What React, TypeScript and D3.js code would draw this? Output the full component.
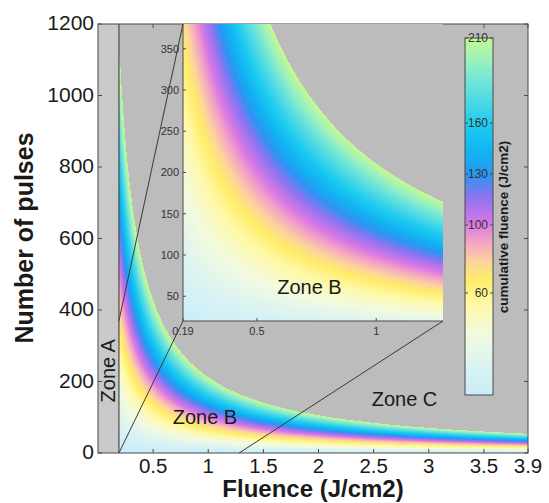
import React from "react";
import * as d3 from "d3";

// ---- data ----
const FLUENCE_TICKS = [0.5, 1, 1.5, 2, 2.5, 3, 3.5, 3.9];
const PULSE_TICKS = [0, 200, 400, 600, 800, 1000, 1200];
const INSET_FLUENCE_TICKS = [0.19, 0.5, 1];
const INSET_PULSE_TICKS = [50, 100, 150, 200, 250, 300, 350];
const CBAR_TICKS = [60, 100, 130, 160, 210];
const CMAP_VALUES = [0, 15, 35, 54, 68, 78, 90, 101, 117, 129, 142, 158, 182, 196, 210];
const CMAP_COLORS = [
  "#c8ecf8", "#d8f2f4", "#f2fae0", "#fff8a4", "#ffec68", "#fcd49c", "#f4a4c4",
  "#d878e4", "#8a74f2", "#2e94f2", "#10b2f2", "#1ccaf0", "#68e2dc", "#98f0c0", "#c4f892",
];
const FLUENCE_DOMAIN = [0, 3.9];
const PULSE_DOMAIN = [0, 1200];
const ZONE_A_LIMIT = 0.19;
const MAX_CUMULATIVE = 210;
const ZOOM_FLUENCE = [0.19, 1.28];
const ZOOM_PULSES = [0, 370];
const INSET_PULSE_DOMAIN = [20, 380];
const CBAR_DOMAIN = [0, 210];
const ZONES = [
  { label: "Zone B", f: 0.97, n: 100 },
  { label: "Zone C", f: 2.78, n: 150 },
];

const FONT = "Arial, 'Liberation Sans', Helvetica, sans-serif";
const BG = "#bcbcbc";
const AXIS = "#4a4a4a";

function Columns({ x, y, fMin, fMax, id }: any) {
  const px0 = Math.floor(x(fMin));
  const px1 = Math.ceil(x(fMax));
  const cols = d3.range(px0, px1);
  return (
    <g clipPath={`url(#${id})`}>
      {cols.map((px) => {
        const f = Math.max(fMin, x.invert(px + 0.5));
        const top = y(MAX_CUMULATIVE / f);
        const bottom = y(0);
        const xl = Math.max(px, x(fMin));
        const xr = Math.min(px + 1, x(fMax));
        return (
          <rect
            key={px}
            x={xl}
            y={top}
            width={xr - xl + 0.6}
            height={bottom - top}
            fill="url(#cmap)"
            shapeRendering="crispEdges"
          />
        );
      })}
    </g>
  );
}

export default function App() {
  const W = 549, H = 503;
  const m = { left: 98, right: 528, top: 24, bottom: 453 };
  const x = d3.scaleLinear().domain(FLUENCE_DOMAIN).range([m.left, m.right]);
  const y = d3.scaleLinear().domain(PULSE_DOMAIN).range([m.bottom, m.top]);

  const ins = { left: 183, right: 443, top: 24, bottom: 321 };
  const ix = d3.scaleLinear().domain(ZOOM_FLUENCE).range([ins.left, ins.right]);
  const iy = d3.scaleLinear().domain(INSET_PULSE_DOMAIN).range([ins.bottom, ins.top]);

  const cb = { left: 465, right: 493, top: 38, bottom: 395 };
  const cy = d3.scaleLinear().domain(CBAR_DOMAIN).range([cb.bottom, cb.top]);

  const tk = 4;

  return (
    <svg
      width={W}
      height={H}
      style={{ position: "absolute", left: 0, top: 0, background: "#fff" }}
      fontFamily={FONT}
    >
      <defs>
        <linearGradient id="cmap" x1="0" y1="1" x2="0" y2="0" gradientUnits="objectBoundingBox">
          {CMAP_VALUES.map((v, i) => (
            <stop key={i} offset={v / MAX_CUMULATIVE} stopColor={CMAP_COLORS[i]} />
          ))}
        </linearGradient>
        <clipPath id="mainclip">
          <rect x={m.left} y={m.top} width={m.right - m.left} height={m.bottom - m.top} />
        </clipPath>
        <clipPath id="insclip">
          <rect x={ins.left} y={ins.top} width={ins.right - ins.left} height={ins.bottom - ins.top} />
        </clipPath>
      </defs>
      <rect x={0} y={0} width={W} height={H} fill="#fff" />

      {/* main plot */}
      <rect x={m.left} y={m.top} width={m.right - m.left} height={m.bottom - m.top} fill={BG} />
      <rect x={m.left} y={m.top} width={x(ZONE_A_LIMIT) - m.left} height={m.bottom - m.top} fill="#c9c9c9" />
      <Columns x={x} y={y} fMin={ZONE_A_LIMIT} fMax={FLUENCE_DOMAIN[1]} id="mainclip" />
      <line x1={x(ZONE_A_LIMIT)} x2={x(ZONE_A_LIMIT)} y1={y(0)} y2={y(1200)} stroke={AXIS} strokeWidth={1.2} />

      {/* ticks main */}
      {FLUENCE_TICKS.map((t) => (
        <g key={"fx" + t}>
          <line x1={x(t)} x2={x(t)} y1={m.bottom} y2={m.bottom - tk} stroke={AXIS} />
          <line x1={x(t)} x2={x(t)} y1={m.top} y2={m.top + tk} stroke={AXIS} />
          <text x={x(t)} y={473} textAnchor="middle" fontSize={20.5} fill="#1a1a1a">{t}</text>
        </g>
      ))}
      {PULSE_TICKS.map((t) => (
        <g key={"py" + t}>
          <line x1={m.left} x2={m.left + tk} y1={y(t)} y2={y(t)} stroke={AXIS} />
          <line x1={m.right} x2={m.right - tk} y1={y(t)} y2={y(t)} stroke={AXIS} />
          <text x={94} y={y(t) - 1} dy="0.35em" textAnchor="end" fontSize={21} fill="#1a1a1a">{t}</text>
        </g>
      ))}
      <rect x={m.left} y={m.top} width={m.right - m.left} height={m.bottom - m.top} fill="none" stroke={AXIS} strokeWidth={1} />

      {/* inset */}
      <rect x={ins.left} y={ins.top} width={ins.right - ins.left} height={ins.bottom - ins.top} fill={BG} />
      <Columns x={ix} y={iy} fMin={ZOOM_FLUENCE[0]} fMax={ZOOM_FLUENCE[1]} id="insclip" />
      <line x1={ins.left} x2={ins.left} y1={ins.top} y2={ins.bottom} stroke={AXIS} />
      <line x1={ins.left} x2={ins.right} y1={ins.bottom} y2={ins.bottom} stroke={AXIS} />
      {INSET_FLUENCE_TICKS.map((t) => (
        <g key={"ix" + t}>
          <line x1={ix(t)} x2={ix(t)} y1={ins.bottom} y2={ins.bottom - 3} stroke={AXIS} />
          <text x={ix(t)} y={335} textAnchor="middle" fontSize={11} fill="#333">{t}</text>
        </g>
      ))}
      {INSET_PULSE_TICKS.map((t) => (
        <g key={"iy" + t}>
          <line x1={ins.left} x2={ins.left + 3} y1={iy(t)} y2={iy(t)} stroke={AXIS} />
          <text x={179} y={iy(t)} dy="0.35em" textAnchor="end" fontSize={11} fill="#333">{t}</text>
        </g>
      ))}

      {/* connector lines */}
      <g stroke="#3a3a3a" strokeWidth={1}>
        <line x1={ins.left} y1={ins.top} x2={x(ZOOM_FLUENCE[0])} y2={y(ZOOM_PULSES[1])} />
        <line x1={ins.left} y1={ins.bottom} x2={x(ZOOM_FLUENCE[0])} y2={y(ZOOM_PULSES[0])} />
        <line x1={ins.right} y1={ins.bottom} x2={x(ZOOM_FLUENCE[1])} y2={y(ZOOM_PULSES[0])} />
      </g>

      {/* zone labels */}
      <text transform={`translate(${(m.left + x(ZONE_A_LIMIT)) / 2 + 7},${y(230)}) rotate(-90)`} textAnchor="middle" fontSize={20} fill="#1a1a1a">Zone A</text>
      {ZONES.map((z) => (
        <text key={z.label} x={x(z.f)} y={y(z.n) + 7} textAnchor="middle" fontSize={20} fill="#1a1a1a">{z.label}</text>
      ))}
      <text x={ix(0.72)} y={iy(50) - 2} textAnchor="middle" fontSize={20} fill="#1a1a1a">Zone B</text>

      {/* colorbar */}
      <rect x={cb.left} y={cb.top} width={cb.right - cb.left} height={cb.bottom - cb.top} fill="url(#cmap)" stroke={AXIS} strokeWidth={1} />
      {CBAR_TICKS.map((t) => (
        <g key={"cb" + t}>
          <line x1={cb.left} x2={cb.left + 3} y1={cy(t)} y2={cy(t)} stroke={AXIS} />
          <line x1={cb.right} x2={cb.right - 3} y1={cy(t)} y2={cy(t)} stroke={AXIS} />
          <text x={488} y={cy(t)} dy="0.35em" textAnchor="end" fontSize={12} fill="#333">{t}</text>
        </g>
      ))}
      <text transform={`translate(503,227) rotate(-90)`} textAnchor="middle" dy="0.35em" fontSize={13.5} fontWeight="bold" fill="#1a1a1a">cumulative fluence (J/cm2)</text>

      {/* axis labels */}
      <text x={313} y={497} textAnchor="middle" fontSize={24} fontWeight="bold" fill="#1a1a1a">Fluence (J/cm2)</text>
      <text transform={`translate(24,238) rotate(-90)`} textAnchor="middle" dy="0.35em" fontSize={25} fontWeight="bold" fill="#1a1a1a">Number of pulses</text>
    </svg>
  );
}
